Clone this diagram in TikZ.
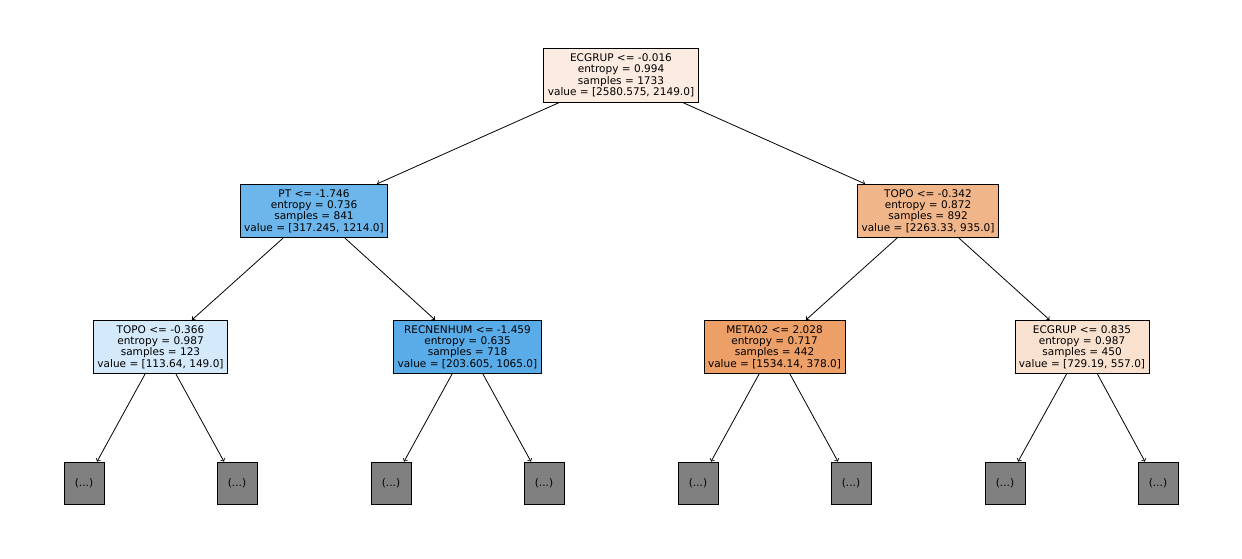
\documentclass[tikz,border=0pt]{standalone}
\usepackage{fontspec}
\setmainfont{DejaVu Sans}
\usetikzlibrary{positioning,calc}
\definecolor{rootpeach}{RGB}{251,235,224}
\definecolor{ptblue}{RGB}{108,182,236}
\definecolor{paleblue}{RGB}{212,233,250}
\definecolor{deepblue}{RGB}{90,172,233}
\definecolor{midorange}{RGB}{241,181,138}
\definecolor{deeporange}{RGB}{236,159,103}
\definecolor{lightpeach}{RGB}{249,225,208}
\definecolor{leafgrey}{RGB}{128,128,128}

\begin{document}
\begin{tikzpicture}[
    x=0.75pt, y=-0.75pt,
    split/.style={rectangle, draw, line width=0.6pt, align=center, inner xsep=3pt, inner ysep=3.7pt, font=\fontsize{7.9}{8.6}\selectfont},
    leaf/.style={rectangle, draw, line width=0.6pt, fill=leafgrey, minimum width=30pt, minimum height=31.5pt, inner sep=0pt, font=\fontsize{7.9}{8.6}\selectfont},
    edge/.style={->, line width=0.6pt}
]
    \useasboundingbox (0,0) rectangle (1242,558);

    % Root
    \node[split, fill=rootpeach] (root) at (621,75.5) {ECGRUP <= -0.016\\entropy = 0.994\\samples = 1733\\value = [2580.575, 2149.0]};

    % Depth 1
    \node[split, fill=ptblue] (pt) at (314,211) {PT <= -1.746\\entropy = 0.736\\samples = 841\\value = [317.245, 1214.0]};
    \node[split, fill=midorange] (topo_r) at (928,211) {TOPO <= -0.342\\entropy = 0.872\\samples = 892\\value = [2263.33, 935.0]};

    % Depth 2
    \node[split, fill=paleblue] (topo_l) at (160.5,347) {TOPO <= -0.366\\entropy = 0.987\\samples = 123\\value = [113.64, 149.0]};
    \node[split, fill=deepblue] (recnen) at (467.5,347) {RECNENHUM <= -1.459\\entropy = 0.635\\samples = 718\\value = [203.605, 1065.0]};
    \node[split, fill=deeporange] (meta) at (774.5,347) {META02 <= 2.028\\entropy = 0.717\\samples = 442\\value = [1534.14, 378.0]};
    \node[split, fill=lightpeach] (ecg_r) at (1082,347) {ECGRUP <= 0.835\\entropy = 0.987\\samples = 450\\value = [729.19, 557.0]};

    % Truncated leaves
    \node[leaf] (l1) at (84,483) {(...)};
    \node[leaf] (l2) at (237,483) {(...)};
    \node[leaf] (l3) at (391,483) {(...)};
    \node[leaf] (l4) at (544,483) {(...)};
    \node[leaf] (l5) at (698,483) {(...)};
    \node[leaf] (l6) at (851,483) {(...)};
    \node[leaf] (l7) at (1005,483) {(...)};
    \node[leaf] (l8) at (1158,483) {(...)};

    % Edges
    \draw[edge] ($(root.south)+(-62,0)$) -- ($(pt.north)+(63,0)$);
    \draw[edge] ($(root.south)+(62,0)$) -- ($(topo_r.north)+(-63,0)$);
    \draw[edge] ($(pt.south)+(-31,0)$) -- ($(topo_l.north)+(31.5,0)$);
    \draw[edge] ($(pt.south)+(31,0)$) -- ($(recnen.north)+(-32.5,0)$);
    \draw[edge] ($(topo_r.south)+(-31,0)$) -- ($(meta.north)+(31.5,0)$);
    \draw[edge] ($(topo_r.south)+(31,0)$) -- ($(ecg_r.north)+(-32.5,0)$);
    \foreach \parent/\lo/\hi in {topo_l/l1/l2, recnen/l3/l4, meta/l5/l6, ecg_r/l7/l8} {
        \draw[edge] ($(\parent.south)+(-15.5,0)$) -- ($(\lo.north)+(13,0)$);
        \draw[edge] ($(\parent.south)+(15.5,0)$) -- ($(\hi.north)+(-13,0)$);
    }
\end{tikzpicture}
\end{document}
